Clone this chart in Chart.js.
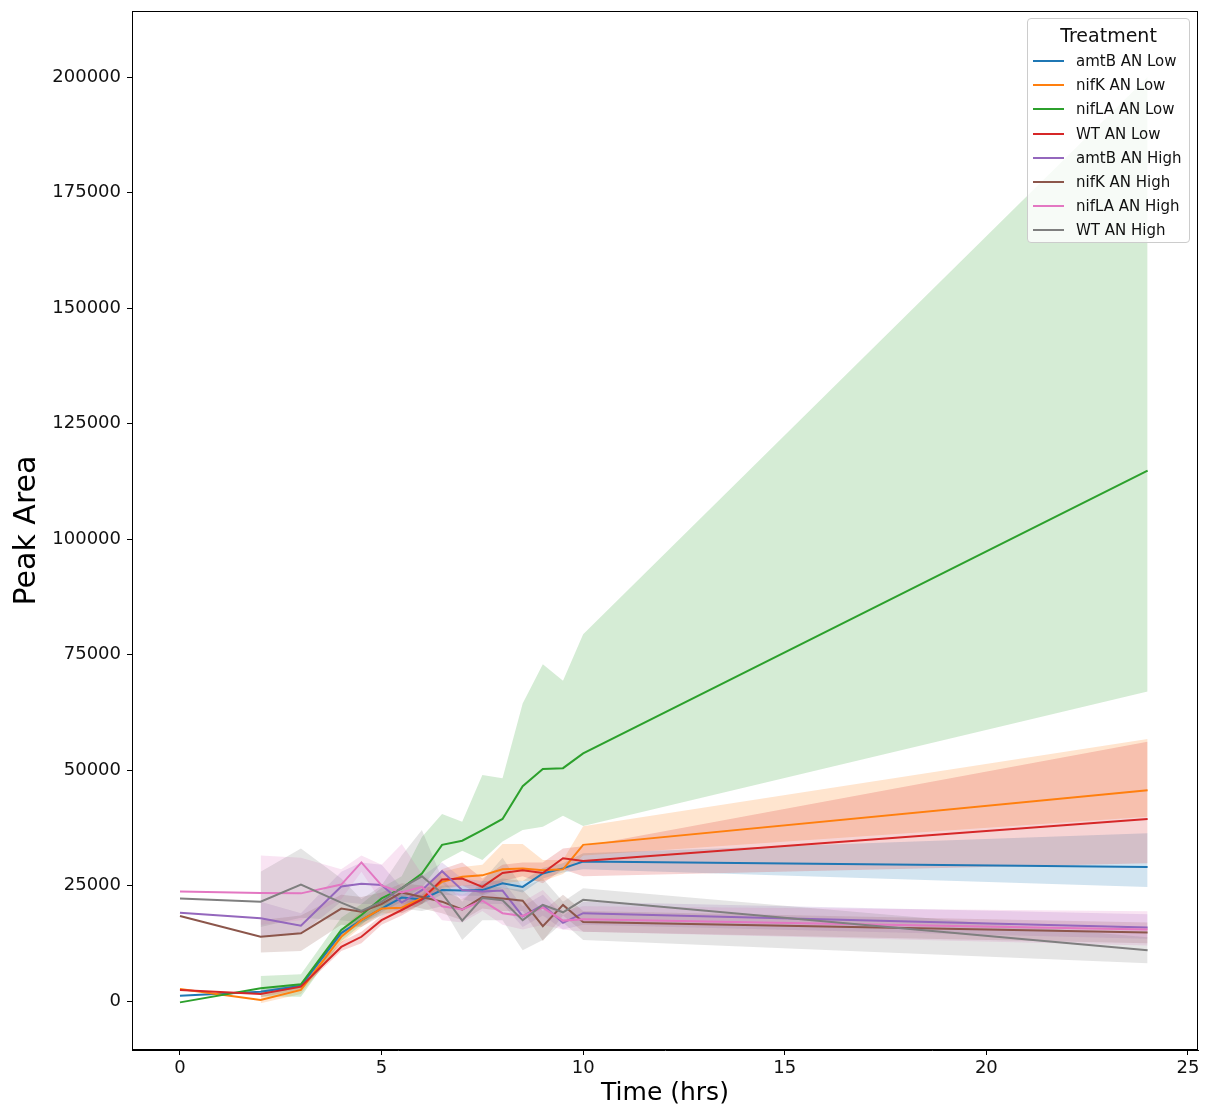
<!DOCTYPE html>
<html>
<head>
<meta charset="utf-8">
<title>Peak Area over time</title>
<script src="https://cdn.jsdelivr.net/npm/chart.js@4.4.1/dist/chart.umd.min.js"></script>
<style>
  html, body { margin: 0; padding: 0; background: #fff; }
  #wrap { position: relative; width: 1205px; height: 1108px; }
  #legend {
    position: absolute; left: 1027px; top: 18px; width: 161px; height: 223px;
    border: 1px solid #cccccc; border-radius: 4px; background: rgba(255,255,255,0.8);
    font-family: 'DejaVu Sans', sans-serif; color: #111; box-sizing: content-box;
  }
  #legend .title { position: absolute; left: 0; right: 0; top: 3px; text-align: center; font-size: 19px; line-height: 26px; }
  #legend .item { position: absolute; left: 0; height: 20px; width: 161px; }
  #legend .swatch { position: absolute; left: 5px; top: 9px; width: 31px; height: 2px; }
  #legend .label { position: absolute; left: 48px; top: 0; font-size: 15px; line-height: 20px; white-space: nowrap; }
</style>
</head>
<body>
<div id="wrap">
  <canvas id="chart" width="1205" height="1108"></canvas>
  <div id="legend"><div class="title">Treatment</div></div>
</div>
<script>
// Sampling times (hours)
const hours = [0, 2, 3, 4, 4.5, 5, 5.5, 6, 6.5, 7, 7.5, 8, 8.5, 9, 9.5, 10, 24];

// Treatment names, in legend order
const treatments = ['amtB AN Low', 'nifK AN Low', 'nifLA AN Low', 'WT AN Low',
                    'amtB AN High', 'nifK AN High', 'nifLA AN High', 'WT AN High'];
const palette = ['#1f77b4', '#ff7f0e', '#2ca02c', '#d62728',
                 '#9467bd', '#8c564b', '#e377c2', '#7f7f7f'];

// Mean peak area per treatment
const amtbLowMean  = [1150, 2000, 3300, 14700, 17500, 20000, 22400, 22000, 24000, 23900, 24000, 25500, 24700, 27600, 28700, 30200, 29000];
const nifkLowMean  = [2600, 200, 2400, 13900, 17500, 20000, 20200, 22300, 25800, 26900, 27200, 28500, 28700, 28300, 28500, 33800, 45600];
const niflaLowMean = [-300, 2750, 3600, 15400, 18600, 22200, 24400, 27600, 33800, 34700, 37000, 39400, 46500, 50200, 50400, 53600, 114800];
const wtLowMean    = [2400, 1500, 3100, 11700, 13900, 17500, 19700, 22000, 26300, 26500, 24700, 27700, 28300, 27700, 30900, 30300, 39400];
const amtbHighMean = [19100, 17900, 16300, 24800, 25400, 25100, 21300, 24000, 28100, 24000, 23700, 23900, 18300, 20800, 16900, 19000, 15900];
const nifkHighMean = [18400, 13900, 14650, 20000, 19300, 21000, 23500, 22500, 21500, 19800, 22500, 22200, 21700, 16200, 20800, 17100, 14800];
const niflaHighMean= [23700, 23400, 23300, 25200, 30000, 25000, 23500, 24700, 20500, 19800, 21700, 19000, 18400, 20200, 17400, 17700, 15500];
const wtHighMean   = [22200, 21500, 25200, 21300, 19500, 21500, 24500, 27000, 23300, 17400, 22300, 21800, 17500, 20800, 19200, 21900, 11000];

// Lower bound of the confidence interval
const amtbLowLo  = [null, 1500, 2800, 14000, 16800, 19200, 21500, 21000, 23000, 22800, 22800, 24500, 23500, 26500, 27800, 28500, 24700];
const nifkLowLo  = [null, -500, 1500, 12500, 16000, 19000, 19000, 21000, 24000, 25000, 25000, 25500, 26000, 26000, 27500, 31500, 39900];
const niflaLowLo = [null, 1000, 900, 13000, 16500, 20000, 22000, 24500, 30200, 32500, 30500, 34500, 37000, 37700, 40100, 37900, 67000];
const wtLowLo    = [null, 800, 2500, 10800, 12500, 16500, 18500, 21000, 24500, 25000, 23000, 26000, 27000, 25500, 28500, 27000, 29800];
const amtbHighLo = [null, 14000, 14500, 21500, 21000, 21000, 19000, 21000, 25500, 22000, 21000, 21000, 16000, 18500, 15500, 16500, 13500];
const nifkHighLo = [null, 10500, 10800, 16500, 16000, 18500, 21000, 20000, 19000, 17500, 20000, 19500, 19500, 13000, 18500, 15000, 12500];
const niflaHighLo= [null, 16500, 17500, 22000, 28000, 21500, 21000, 22500, 17500, 17000, 19500, 16500, 15500, 16500, 15500, 15000, 12000];
const wtHighLo   = [null, 16000, 18000, 17500, 17000, 18500, 20000, 19500, 20500, 13200, 17500, 17500, 11000, 13200, 17000, 13200, 8150];

// Upper bound of the confidence interval
const amtbLowHi  = [null, 2500, 3800, 15500, 18500, 21000, 23500, 23000, 25000, 25000, 25300, 26500, 26000, 28800, 29800, 32000, 36300];
const nifkLowHi  = [null, 1000, 3500, 15500, 19500, 21500, 21500, 24000, 28000, 29000, 29500, 34000, 34000, 30500, 30500, 37800, 56700];
const niflaLowHi = [null, 5400, 5800, 18000, 21000, 24500, 27000, 35500, 40500, 38800, 48900, 48200, 64400, 72900, 69300, 79400, 200000];
const wtLowHi    = [null, 2200, 3800, 12800, 15000, 18500, 21000, 23000, 28500, 30000, 26500, 29500, 30000, 30000, 33000, 33500, 56100];
const amtbHighHi = [null, 21500, 19000, 28000, 30000, 29500, 24500, 27000, 30000, 26500, 26000, 26000, 20500, 23000, 18500, 21500, 18800];
const nifkHighHi = [null, 17500, 18500, 23000, 22500, 23500, 25500, 25000, 24000, 22000, 25000, 24500, 24000, 19500, 23000, 19500, 17000];
const niflaHighHi= [null, 31500, 31000, 28500, 31500, 29500, 34000, 27500, 24500, 23000, 25000, 22000, 21500, 24000, 19500, 20500, 19400];
const wtHighHi   = [null, 28000, 33000, 26500, 22000, 25000, 31500, 37000, 26500, 21500, 26000, 31000, 24500, 26500, 21500, 24400, 13800];

// Axis tick values
const xTickValues = [0, 5, 10, 15, 20, 25];
const yTickValues = [0, 25000, 50000, 75000, 100000, 125000, 150000, 175000, 200000];

const means = [amtbLowMean, nifkLowMean, niflaLowMean, wtLowMean, amtbHighMean, nifkHighMean, niflaHighMean, wtHighMean];
const lows  = [amtbLowLo, nifkLowLo, niflaLowLo, wtLowLo, amtbHighLo, nifkHighLo, niflaHighLo, wtHighLo];
const highs = [amtbLowHi, nifkLowHi, niflaLowHi, wtLowHi, amtbHighHi, nifkHighHi, niflaHighHi, wtHighHi];

function toPoints(values) {
  return hours.map((h, i) => ({ x: h, y: values[i] }));
}
function withAlpha(hex, a) {
  const n = parseInt(hex.slice(1), 16);
  return `rgba(${(n >> 16) & 255}, ${(n >> 8) & 255}, ${n & 255}, ${a})`;
}

const datasets = [];
treatments.forEach((name, i) => {
  // shaded interval: upper edge filled down to the lower edge
  datasets.push({
    label: name + ' upper', data: toPoints(highs[i]),
    borderColor: 'transparent', borderWidth: 0, pointRadius: 0,
    backgroundColor: withAlpha(palette[i], 0.2), fill: '+1',
    order: 100 + (treatments.length - 1 - i), tension: 0
  });
  datasets.push({
    label: name + ' lower', data: toPoints(lows[i]),
    borderColor: 'transparent', borderWidth: 0, pointRadius: 0,
    fill: false, order: 100 + (treatments.length - 1 - i), tension: 0
  });
});
treatments.forEach((name, i) => {
  datasets.push({
    label: name, data: toPoints(means[i]),
    borderColor: palette[i], borderWidth: 2, pointRadius: 0,
    fill: false, order: treatments.length - 1 - i, tension: 0
  });
});

// Full box around the plotting area
const frame = {
  id: 'frame',
  afterDraw(chart) {
    const { ctx, chartArea: a } = chart;
    ctx.save();
    ctx.strokeStyle = '#000';
    ctx.lineWidth = 1;
    ctx.strokeRect(Math.round(a.left) + 0.5, Math.round(a.top) + 0.5,
                   Math.round(a.right - a.left) - 1, Math.round(a.bottom - a.top) - 1);
    ctx.restore();
  }
};

const tickColor = '#111';
new Chart(document.getElementById('chart'), {
  type: 'line',
  data: { datasets },
  options: {
    responsive: false,
    animation: false,
    parsing: true,
    layout: { padding: { left: 0, top: 11, right: 7, bottom: 0 } },
    plugins: {
      legend: { display: false },
      tooltip: { enabled: false },
      filler: { drawTime: 'beforeDatasetsDraw' }
    },
    scales: {
      x: {
        type: 'linear', min: -1.19, max: 25.25,
        afterBuildTicks: s => { s.ticks = xTickValues.map(v => ({ value: v })); },
        afterFit: s => { s.height = 58; s.paddingLeft = 0; s.paddingRight = 0; },
        grid: { display: true, drawOnChartArea: false, drawTicks: true, tickLength: 5, color: '#000' },
        border: { display: true, color: '#000' },
        ticks: { color: tickColor, padding: 3, maxRotation: 0, autoSkip: false,
                 font: { family: 'DejaVu Sans', size: 18 }, callback: v => String(v) },
        title: { display: true, text: 'Time (hrs)', color: '#000',
                 font: { family: 'DejaVu Sans', size: 25, lineHeight: 1 }, padding: { top: 0, bottom: 2 } }
      },
      y: {
        type: 'linear', min: -10606, max: 214286,
        afterBuildTicks: s => { s.ticks = yTickValues.map(v => ({ value: v })); },
        afterFit: s => { s.width = 132; s.paddingTop = 0; s.paddingBottom = 0; },
        grid: { display: true, drawOnChartArea: false, drawTicks: true, tickLength: 5, color: '#000' },
        border: { display: true, color: '#000' },
        ticks: { color: tickColor, padding: 6, autoSkip: false,
                 font: { family: 'DejaVu Sans', size: 18 }, callback: v => String(v) },
        title: { display: true, text: 'Peak Area', color: '#000',
                 font: { family: 'DejaVu Sans', size: 30, lineHeight: 1 }, padding: { top: 12, bottom: 0 } }
      }
    }
  },
  plugins: [frame]
});

// Legend entries
const legend = document.getElementById('legend');
treatments.forEach((name, i) => {
  const item = document.createElement('div');
  item.className = 'item';
  item.style.top = (32 + i * 24.2) + 'px';
  const sw = document.createElement('div');
  sw.className = 'swatch';
  sw.style.background = palette[i];
  const lab = document.createElement('div');
  lab.className = 'label';
  lab.textContent = name;
  item.appendChild(sw);
  item.appendChild(lab);
  legend.appendChild(item);
});
</script>
</body>
</html>
